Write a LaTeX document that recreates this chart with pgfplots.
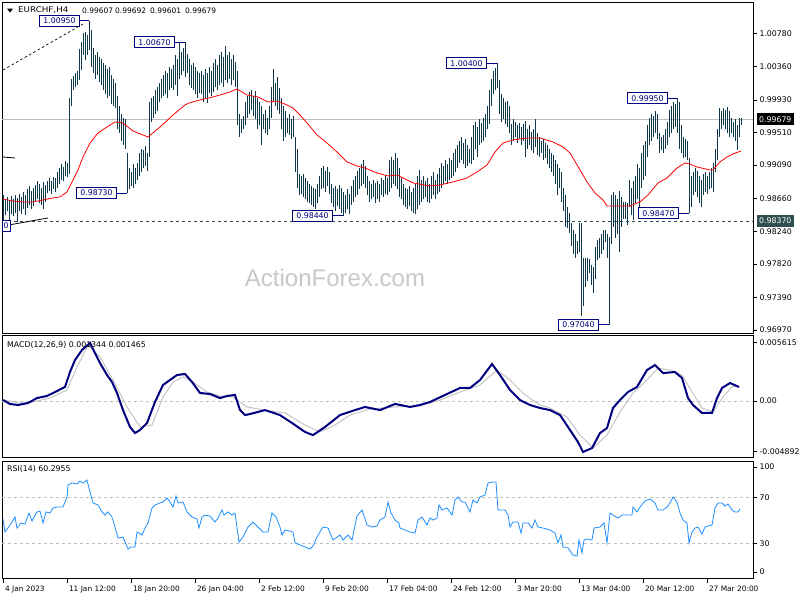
\documentclass[border=0pt]{standalone}
\usepackage{pgfplots}
\pgfplotsset{compat=1.18}
\usepackage{pgfplotstable}
\usepackage{fontspec}
\setmainfont{DejaVu Sans}
\newfontfamily\wmfont{Liberation Sans}

\definecolor{barc}{RGB}{16,56,76}
\definecolor{lblnavy}{RGB}{0,0,128}
\definecolor{slate}{RGB}{47,79,79}
\definecolor{sigc}{RGB}{192,192,192}
\definecolor{rsic}{RGB}{30,144,255}
\definecolor{wmc}{RGB}{200,200,200}
\definecolor{curc}{RGB}{190,190,190}

\newcommand\tfont{\fontsize{7.8}{9}\selectfont}
\newcommand\hfont{\fontsize{7.5}{9}\selectfont}
\newcommand\dfont{\fontsize{7.4}{9}\selectfont}

% H4 bars: index, high, low
\pgfplotstableread{
i hi lo
0 0.9871 0.9826
1 0.9866 0.9845
2 0.9868 0.9850
3 0.9864 0.9838
4 0.9869 0.9846
5 0.9866 0.9843
6 0.9870 0.9848
7 0.9867 0.9836
8 0.9872 0.9850
9 0.9868 0.9846
10 0.9874 0.9852
11 0.9870 0.9845
12 0.9878 0.9854
13 0.9882 0.9858
14 0.9876 0.9852
15 0.9880 0.9857
16 0.9884 0.9862
17 0.9888 0.9865
18 0.9885 0.9860
19 0.9880 0.9858
20 0.9887 0.9853
21 0.9883 0.9862
22 0.9889 0.9873
23 0.9892 0.9876
24 0.9888 0.9872
25 0.9894 0.9878
26 0.9892 0.9874
27 0.9900 0.9880
28 0.9905 0.9885
29 0.9910 0.9890
30 0.9907 0.9888
31 0.9914 0.9895
32 0.9912 0.9894
33 0.9995 0.9898
34 1.0020 0.9985
35 1.0024 1.0006
36 1.0027 1.0010
37 1.0030 1.0012
38 1.0059 1.0018
39 1.0067 1.0031
40 1.0079 1.0051
41 1.0080 1.0044
42 1.0077 1.0050
43 1.0095 1.0057
44 1.0083 1.0035
45 1.0060 1.0028
46 1.0050 1.0020
47 1.0055 1.0025
48 1.0048 1.0016
49 1.0045 1.0012
50 1.0040 1.0005
51 1.0038 1.0000
52 1.0032 0.9995
53 1.0035 0.9998
54 1.0025 0.9988
55 1.0020 0.9985
56 1.0015 0.9982
57 0.9998 0.9955
58 0.9985 0.9950
59 0.9975 0.9940
60 0.9970 0.9935
61 0.9968 0.9930
62 0.9925 0.9873
63 0.9905 0.9878
64 0.9900 0.9882
65 0.9910 0.9880
66 0.9905 0.9885
67 0.9912 0.9890
68 0.9925 0.9895
69 0.9930 0.9900
70 0.9928 0.9905
71 0.9933 0.9908
72 0.9925 0.9902
73 0.9990 0.9920
74 0.9995 0.9965
75 0.9998 0.9970
76 1.0005 0.9975
77 1.0010 0.9978
78 1.0015 0.9990
79 1.0020 0.9995
80 1.0025 0.9998
81 1.0030 1.0000
82 1.0028 0.9995
83 1.0035 1.0005
84 1.0032 1.0008
85 1.0038 1.0005
86 1.0050 1.0012
87 1.0045 0.9998
88 1.0066 1.0020
89 1.0055 1.0025
90 1.0060 1.0030
91 1.0067 1.0022
92 1.0052 1.0028
93 1.0045 1.0012
94 1.0038 1.0008
95 1.0040 1.0005
96 1.0035 1.0000
97 1.0030 0.9995
98 1.0028 1.0002
99 1.0030 1.0000
100 1.0025 0.9990
101 1.0032 0.9995
102 1.0028 0.9989
103 1.0035 1.0002
104 1.0030 0.9998
105 1.0040 1.0003
106 1.0045 1.0010
107 1.0038 1.0005
108 1.0050 1.0012
109 1.0055 1.0015
110 1.0048 1.0010
111 1.0062 1.0018
112 1.0050 1.0015
113 1.0055 1.0020
114 1.0045 1.0012
115 1.0050 1.0018
116 1.0042 1.0010
117 1.0030 0.9960
118 0.9975 0.9945
119 0.9968 0.9950
120 0.9972 0.9955
121 0.9990 0.9960
122 0.9998 0.9970
123 1.0003 0.9975
124 1.0005 0.9980
125 0.9998 0.9972
126 1.0004 0.9968
127 0.9995 0.9955
128 0.9990 0.9960
129 0.9985 0.9935
130 0.9975 0.9955
131 0.9980 0.9950
132 0.9970 0.9948
133 0.9985 0.9955
134 1.0010 0.9970
135 1.0033 0.9990
136 1.0015 0.9985
137 1.0022 0.9980
138 1.0008 0.9975
139 0.9995 0.9955
140 0.9985 0.9940
141 0.9978 0.9945
142 0.9970 0.9950
143 0.9975 0.9948
144 0.9968 0.9942
145 0.9972 0.9945
146 0.9945 0.9900
147 0.9930 0.9880
148 0.9898 0.9870
149 0.9895 0.9872
150 0.9898 0.9868
151 0.9892 0.9865
152 0.9888 0.9862
153 0.9885 0.9860
154 0.9882 0.9858
155 0.9880 0.9855
156 0.9878 0.9852
157 0.9885 0.9860
158 0.9895 0.9868
159 0.9905 0.9878
160 0.9908 0.9880
161 0.9902 0.9875
162 0.9906 0.9882
163 0.9900 0.9872
164 0.9885 0.9860
165 0.9880 0.9855
166 0.9882 0.9850
167 0.9878 0.9856
168 0.9884 0.9852
169 0.9880 0.9848
170 0.9875 0.9844
171 0.9870 0.9848
172 0.9878 0.9852
173 0.9872 0.9846
174 0.9882 0.9858
175 0.9890 0.9862
176 0.9895 0.9868
177 0.9902 0.9870
178 0.9905 0.9878
179 0.9910 0.9882
180 0.9915 0.9885
181 0.9908 0.9880
182 0.9895 0.9870
183 0.9888 0.9862
184 0.9885 0.9865
185 0.9890 0.9868
186 0.9886 0.9860
187 0.9888 0.9866
188 0.9885 0.9862
189 0.9892 0.9870
190 0.9890 0.9868
191 0.9895 0.9872
192 0.9892 0.9870
193 0.9915 0.9875
194 0.9920 0.9880
195 0.9915 0.9885
196 0.9925 0.9882
197 0.9918 0.9878
198 0.9905 0.9868
199 0.9892 0.9865
200 0.9885 0.9858
201 0.9880 0.9855
202 0.9878 0.9852
203 0.9882 0.9856
204 0.9875 0.9850
205 0.9880 0.9848
206 0.9885 0.9846
207 0.9895 0.9852
208 0.9903 0.9858
209 0.9890 0.9862
210 0.9895 0.9865
211 0.9888 0.9868
212 0.9892 0.9862
213 0.9885 0.9860
214 0.9895 0.9866
215 0.9900 0.9870
216 0.9890 0.9865
217 0.9898 0.9872
218 0.9905 0.9875
219 0.9912 0.9880
220 0.9908 0.9885
221 0.9915 0.9888
222 0.9910 0.9885
223 0.9918 0.9890
224 0.9915 0.9892
225 0.9925 0.9895
226 0.9930 0.9900
227 0.9935 0.9905
228 0.9940 0.9912
229 0.9945 0.9915
230 0.9938 0.9910
231 0.9942 0.9905
232 0.9935 0.9908
233 0.9930 0.9912
234 0.9945 0.9910
235 0.9960 0.9915
236 0.9965 0.9930
237 0.9958 0.9920
238 0.9968 0.9935
239 0.9963 0.9938
240 0.9970 0.9940
241 0.9975 0.9945
242 0.9985 0.9955
243 1.0005 0.9962
244 1.0020 0.9985
245 1.0030 1.0000
246 1.0034 1.0005
247 1.0040 1.0008
248 1.0018 0.9975
249 1.0000 0.9965
250 0.9995 0.9968
251 0.9990 0.9962
252 0.9992 0.9958
253 0.9985 0.9950
254 0.9962 0.9935
255 0.9968 0.9940
256 0.9965 0.9945
257 0.9960 0.9938
258 0.9963 0.9942
259 0.9958 0.9935
260 0.9962 0.9940
261 0.9966 0.9920
262 0.9955 0.9930
263 0.9960 0.9935
264 0.9952 0.9928
265 0.9955 0.9925
266 0.9968 0.9932
267 0.9950 0.9922
268 0.9945 0.9920
269 0.9940 0.9925
270 0.9942 0.9915
271 0.9938 0.9918
272 0.9935 0.9910
273 0.9930 0.9905
274 0.9925 0.9900
275 0.9922 0.9895
276 0.9915 0.9885
277 0.9910 0.9870
278 0.9905 0.9880
279 0.9900 0.9862
280 0.9880 0.9850
281 0.9870 0.9830
282 0.9855 0.9828
283 0.9848 0.9822
284 0.9835 0.9805
285 0.9825 0.9795
286 0.9820 0.9790
287 0.9812 0.9795
288 0.9835 0.9797
289 0.9835 0.9715
290 0.9790 0.9728
291 0.9790 0.9752
292 0.9790 0.9760
293 0.9788 0.9770
294 0.9780 0.9755
295 0.9778 0.9745
296 0.9804 0.9762
297 0.9813 0.9787
298 0.9815 0.9790
299 0.9820 0.9795
300 0.9825 0.9800
301 0.9825 0.9810
302 0.9820 0.9790
303 0.9816 0.9704
304 0.9870 0.9808
305 0.9875 0.9830
306 0.9870 0.9815
307 0.9865 0.9820
308 0.9876 0.9797
309 0.9868 0.9830
310 0.9862 0.9840
311 0.9862 0.9840
312 0.9860 0.9832
313 0.9890 0.9855
314 0.9880 0.9845
315 0.9888 0.9838
316 0.9895 0.9860
317 0.9910 0.9865
318 0.9905 0.9855
319 0.9925 0.9880
320 0.9935 0.9890
321 0.9940 0.9895
322 0.9960 0.9920
323 0.9970 0.9935
324 0.9975 0.9940
325 0.9972 0.9945
326 0.9978 0.9950
327 0.9975 0.9942
328 0.9950 0.9925
329 0.9945 0.9928
330 0.9948 0.9925
331 0.9955 0.9930
332 0.9965 0.9935
333 0.9980 0.9945
334 0.9985 0.9950
335 0.9990 0.9955
336 0.9988 0.9958
337 0.9995 0.9950
338 0.9990 0.9930
339 0.9960 0.9925
340 0.9945 0.9918
341 0.9942 0.9920
342 0.9940 0.9915
343 0.9918 0.9847
344 0.9895 0.9855
345 0.9900 0.9870
346 0.9905 0.9875
347 0.9902 0.9868
348 0.9895 0.9860
349 0.9890 0.9855
350 0.9898 0.9870
351 0.9900 0.9875
352 0.9895 0.9872
353 0.9900 0.9878
354 0.9905 0.9880
355 0.9912 0.9875
356 0.9930 0.9900
357 0.9955 0.9915
358 0.9983 0.9945
359 0.9978 0.9955
360 0.9982 0.9960
361 0.9980 0.9955
362 0.9984 0.9950
363 0.9978 0.9945
364 0.9970 0.9950
365 0.9965 0.9945
366 0.9968 0.9940
367 0.9960 0.9928
368 0.9970 0.9945
369 0.9969 0.9960
}\bars

% moving average (red)
\pgfplotstableread{
i p
0 0.98655
5 0.98629
10 0.98616
15 0.98616
20 0.98642
25 0.98668
28.5 0.98681
32 0.98745
34.5 0.98874
37.5 0.99028
40 0.99195
43.5 0.99375
47.5 0.99504
52 0.99581
56 0.99645
60 0.99632
65 0.99529
72.5 0.99452
78.5 0.99581
85 0.99735
91 0.99864
93 0.99889
98.5 0.99928
105 0.99967
108.5 0.99992
113.5 1.00031
117 1.00069
122 0.99992
127.5 0.99967
132.5 0.99902
137 0.99915
142 0.99864
145 0.99825
148.5 0.99735
152 0.99632
157 0.99478
162 0.99375
167 0.99259
172 0.99131
177 0.99079
181 0.99053
187 0.98989
192.5 0.98951
197 0.98964
205 0.98861
213.5 0.98822
218.5 0.98835
225 0.98874
232 0.98925
237 0.99002
242 0.99092
246 0.99259
250 0.99375
255 0.99414
262 0.99439
268.5 0.99439
275 0.99388
280 0.99324
283.5 0.99246
288.5 0.99028
292 0.98874
296 0.98732
300 0.98642
302 0.98565
313.5 0.98565
318.5 0.98616
322.5 0.98706
327.5 0.98861
332 0.98925
337 0.99053
341 0.99118
343.5 0.99105
347 0.99066
353.5 0.99028
355 0.99028
358.5 0.99131
362 0.99195
365 0.99234
369 0.99272
}\ma

\pgfplotstableread{
i v
0 0.00009
3.5 -0.00029
7.5 -0.00039
12.5 -0.00020
17 0.00028
22 0.00048
26 0.00086
31 0.00135
33.5 0.00279
36 0.00395
39.5 0.00491
43.5 0.00559
46 0.00462
48.5 0.00366
52 0.00250
54.5 0.00183
57 0.00077
60 -0.00088
63.5 -0.00251
66 -0.00309
68.5 -0.00280
72 -0.00213
76 -0.00010
80 0.00154
83.5 0.00202
87 0.00250
91 0.00260
94.5 0.00183
98.5 0.00077
103.5 0.00067
108.5 0.00028
112 0.00048
116 0.00058
118.5 -0.00088
121 -0.00136
123.5 -0.00126
131 -0.00088
138.5 -0.00136
146 -0.00232
151 -0.00299
155 -0.00329
161 -0.00251
168.5 -0.00136
176 -0.00088
181 -0.00058
188.5 -0.00088
196 -0.00029
203.5 -0.00058
208.5 -0.00039
213.5 -0.00010
221 0.00058
228.5 0.00125
233.5 0.00125
238.5 0.00202
244.5 0.00356
248.5 0.00250
253.5 0.00106
258.5 0.00009
263.5 -0.00039
268.5 -0.00068
273.5 -0.00088
278.5 -0.00136
283.5 -0.00280
287.5 -0.00396
290 -0.00492
294.5 -0.00454
298.5 -0.00309
302 -0.00261
305 -0.00068
308.5 0.00009
312.5 0.00086
317 0.00135
322 0.00298
326 0.00346
330 0.00269
336 0.00279
339.5 0.00221
342.5 0.00028
345 -0.00039
349.5 -0.00116
354.5 -0.00116
357 0.00028
359.5 0.00125
363.5 0.00173
368 0.00134
}\macd

\pgfplotstableread{
i v
0 0.00009
8.5 -0.00020
15 -0.00010
23.5 0.00028
32 0.00106
37 0.00327
42.5 0.00539
48.5 0.00424
55 0.00202
62 -0.00058
68.5 -0.00251
74.5 -0.00232
80 0.00038
85 0.00183
90 0.00231
95 0.00183
102 0.00086
108.5 0.00048
115 0.00038
122 -0.00058
131 -0.00088
141 -0.00116
151 -0.00232
158.5 -0.00299
166 -0.00232
173.5 -0.00136
183.5 -0.00078
196 -0.00058
208.5 -0.00048
218.5 0.00009
228.5 0.00086
238.5 0.00154
247 0.00298
253.5 0.00202
261 0.00058
268.5 -0.00039
273.5 -0.00068
282 -0.00155
288.5 -0.00329
295 -0.00454
302 -0.00329
308.5 -0.00107
315 0.00077
322 0.00202
327.5 0.00317
333.5 0.00298
339.5 0.00250
344.5 0.00086
349.5 -0.00068
355 -0.00107
360 0.00038
364.5 0.00135
368 0.00147
}\sig

\pgfplotstableread{
i v
0 51.3
1 39.9
2.5 43.4
4.5 48.7
6 53.1
7 43.4
9 47.8
11 46.9
13 56.6
14.5 49.6
17 57.5
18.5 58.3
20 47.8
21.5 57.5
23.5 56.6
25 61.0
27 61.8
30 61.8
32 70.6
32.5 81.1
34.5 82.9
37 82.0
38.5 84.6
40 82.9
42 85.5
43.5 75.0
45 65.4
47.5 63.6
49.5 57.5
51 54.8
52.5 57.5
54.5 53.1
56 44.3
57.5 34.6
60 35.5
62.5 25.0
64 26.8
66 26.8
67 39.9
69.5 37.3
71 43.4
72.5 47.8
74.5 61.0
76 63.6
78.5 65.4
80 66.2
82 69.7
83.5 66.2
85 61.8
86.5 71.5
87.5 65.4
90 66.2
92 57.5
94.5 53.1
97 51.3
98 43.4
99.5 53.1
101 54.8
103.5 53.9
106 48.7
107.5 52.2
109.5 59.2
110.5 54.8
112.5 57.5
114.5 54.8
116 56.6
118 31.1
120 35.5
122.5 44.3
125 48.7
127.5 44.3
130 39.9
132.5 39.9
134.5 56.6
136.5 53.1
138.5 44.3
139.5 37.3
141 41.7
143.5 40.8
145 39.9
146 30.3
148.5 28.5
151 26.8
153.5 25.0
155 27.6
157 35.5
160 44.3
162.5 43.4
165 32.9
168.5 37.3
170 32.9
172.5 37.3
174.5 32.9
177 53.9
179.5 59.2
182 46.1
184.5 44.3
187 45.2
188.5 50.4
191 53.1
192.5 66.2
194 56.6
196 50.4
198 47.8
198.5 43.4
201 41.7
203.5 39.9
206 39.0
207.5 50.4
209.5 53.1
212 46.1
213.5 52.2
215 50.4
217 52.2
218 63.6
219.5 59.2
222 61.0
224.5 54.8
226 68.0
227.5 70.6
229.5 66.2
231 66.2
233.5 57.5
235 68.0
237 65.4
238.5 70.6
241 72.4
242.5 82.9
245 83.8
246.5 83.8
247.5 59.2
251 59.2
252.5 54.8
253.5 44.3
255 48.7
257.5 48.7
259 39.0
260 47.8
262.5 47.8
264.5 43.4
266 50.4
267.5 44.3
270 43.4
273.5 41.7
276 39.0
277.5 30.3
279 37.3
280 26.8
282.5 25.9
285 19.7
287 18.9
288 32.9
289.5 21.5
290.5 32.9
292 33.8
294.5 32.9
295.5 43.4
298.5 44.3
300.5 47.8
302 30.3
303.5 56.6
305 54.8
307.5 52.2
309.5 54.8
312 54.8
314.5 54.8
315 61.8
317 57.5
318.5 61.8
321 67.1
323.5 68.9
326 65.4
327.5 59.2
330 59.2
332 61.8
333.5 65.4
335 70.6
337 66.2
338.5 56.6
340 50.4
342 47.8
343 30.3
344.5 39.9
346 43.4
347.5 44.3
349.5 38.2
351 44.3
352.5 45.2
354.5 46.1
356 61.0
357.5 65.4
359.5 65.4
361 62.7
362.5 64.5
364.5 59.2
366 57.5
367.5 57.5
368.5 60.3
}\rsi

\tikzset{
  lbl/.style={draw=lblnavy, fill=white, text=lblnavy, font=\tfont, line width=0.7pt,
    inner xsep=4pt, inner ysep=0pt, minimum height=11pt, anchor=east},
  lead/.style={lblnavy, line width=0.7pt},
}

\pgfplotsset{
  panel/.style={scale only axis, width=751pt, anchor=north west,
    xmin=-0.5, xmax=375, clip=false,
    axis line style={line width=0.8pt},
    every tick/.style={black, line width=0.6pt},
    tick align=outside, major tick length=4pt,
    ytick pos=right, scaled y ticks=false,
    yticklabel style={font=\tfont, anchor=west, xshift=-1pt},
  },
}

\begin{document}
\begin{tikzpicture}
\fill[white] (0,0) rectangle (800pt,-600pt);
\useasboundingbox (0,0) rectangle (800pt,-600pt);

% watermark
\node[text=wmc, font=\wmfont\fontsize{24}{26}\selectfont, anchor=base] at (335pt,-286pt) {ActionForex.com};

% ---- price panel
\begin{axis}[panel, at={(2pt,-2pt)}, height=331pt,
  ymin=0.96931, ymax=1.01188, xtick=\empty,
  ytick={1.0078,1.0036,0.9993,0.9951,0.9909,0.9866,0.9824,0.9782,0.9739,0.9697},
  yticklabels={1.00780,1.00360,0.99930,0.99510,0.99090,0.98660,0.98240,0.97820,0.97390,0.96970},
]
\addplot[curc, line width=0.8pt, forget plot] coordinates {(-0.5,0.99679) (375,0.99679)};
\addplot[slate, line width=0.8pt, dash pattern=on 3pt off 3pt, forget plot] coordinates {(-0.5,0.9837) (375,0.9837)};
\addplot[barc, only marks, mark=*, mark size=0pt, mark options={draw=none, fill=none},
  error bars/.cd, y dir=plus, y explicit, error mark=none,
  error bar style={line width=0.95pt, barc, solid}]
  table[x=i, y=lo, y error expr=\thisrow{hi}-\thisrow{lo}] {\bars};
\addplot[red, line width=0.8pt, mark=none] table[x=i, y=p] {\ma};

% high / low labels
\draw[lead] (axis cs:38.5,1.0095) -- (axis cs:43,1.0095);
\node[lbl] at (axis cs:38.5,1.0095) {1.00950};
\draw[lead] (axis cs:86,1.0067) -- (axis cs:91,1.0067);
\node[lbl] at (axis cs:86,1.0067) {1.00670};
\draw[lead] (axis cs:57,0.9873) -- (axis cs:62,0.9873);
\node[lbl] at (axis cs:57,0.9873) {0.98730};
\draw[lead] (axis cs:165,0.9844) -- (axis cs:170,0.9844);
\node[lbl] at (axis cs:165,0.9844) {0.98440};
\draw[lead] (axis cs:242,1.0040) -- (axis cs:247,1.0040);
\node[lbl] at (axis cs:242,1.0040) {1.00400};
\draw[lead] (axis cs:298,0.9704) -- (axis cs:303,0.9704);
\node[lbl] at (axis cs:298,0.9704) {0.97040};
\draw[lead] (axis cs:332.5,0.9995) -- (axis cs:337,0.9995);
\node[lbl] at (axis cs:332.5,0.9995) {0.99950};
\draw[lead] (axis cs:338,0.9847) -- (axis cs:343,0.9847);
\node[lbl] at (axis cs:338,0.9847) {0.98470};

\coordinate (cur) at (axis cs:375,0.99679);
\coordinate (sup) at (axis cs:375,0.9837);
\end{axis}

\node[fill=black, text=white, font=\tfont, anchor=west, inner xsep=2.5pt, inner ysep=0pt, minimum height=12pt] at ([xshift=3.5pt]cur) {0.99679};
\node[fill=slate, text=white, font=\tfont, anchor=west, inner xsep=2.5pt, inner ysep=0pt, minimum height=12pt] at ([xshift=3.5pt]sup) {0.98370};

% title
\fill (7pt,-8.5pt) -- (13pt,-8.5pt) -- (10pt,-12.5pt) -- cycle;
\node[font=\tfont, anchor=west, inner sep=0pt, xscale=1.12] at (18pt,-10.5pt) {EURCHF,H4};
\node[font=\hfont, anchor=west, inner sep=0pt] at (82pt,-10.5pt) {0.99607};
\node[font=\hfont, anchor=west, inner sep=0pt] at (115pt,-10.5pt) {0.99692};
\node[font=\hfont, anchor=west, inner sep=0pt] at (150pt,-10.5pt) {0.99601};
\node[font=\hfont, anchor=west, inner sep=0pt] at (185pt,-10.5pt) {0.99679};

% trend lines
\draw[black, line width=0.7pt, dash pattern=on 2.5pt off 2.5pt] (3pt,-70pt) -- (83pt,-24pt);
\draw[black, line width=0.8pt] (3pt,-157pt) -- (15pt,-158pt);
\draw[black, line width=0.8pt] (3pt,-226pt) -- (48pt,-218pt);
\draw[lblnavy, line width=0.7pt, fill=white] (2.5pt,-220pt) rectangle (10pt,-231pt);
\node[text=lblnavy, font=\tfont, inner sep=0pt] at (6pt,-225.5pt) {0};

% ---- MACD panel
\begin{axis}[panel, at={(2pt,-335pt)}, height=122.7pt,
  ymin=-0.00547, ymax=0.006357, xtick=\empty,
  ytick={0.005615,0,-0.004892},
  yticklabels={0.005615,0.00,-0.004892},
]
\addplot[sigc, line width=0.8pt, dash pattern=on 3pt off 3pt, forget plot] coordinates {(-0.5,0) (375,0)};
\addplot[sigc, line width=0.9pt, mark=none] table[x=i, y=v] {\sig};
\addplot[lblnavy, line width=2pt, mark=none] table[x=i, y=v] {\macd};
\end{axis}
\node[font=\tfont, anchor=west, inner sep=0pt] at (7pt,-345pt) {MACD(12,26,9) 0.001344 0.001465};

% ---- RSI panel
\begin{axis}[panel, at={(2pt,-461pt)}, height=117.5pt,
  ymin=-0.88, ymax=102.2,
  ytick={4.8,30,70,96.9}, yticklabels={0,30,70,100},
  xtick={0,32,64,96,128,160,192,224,256,288,320,352},
  xticklabels={4 Jan 2023,11 Jan 12:00,18 Jan 20:00,26 Jan 04:00,2 Feb 12:00,9 Feb 20:00,17 Feb 04:00,24 Feb 12:00,3 Mar 20:00,13 Mar 04:00,20 Mar 12:00,27 Mar 20:00},
  xtick pos=left,
  xticklabel style={font=\dfont, anchor=north west, xshift=-1.5pt},
]
\addplot[sigc, line width=0.8pt, dash pattern=on 3pt off 3pt, forget plot] coordinates {(-0.5,30) (375,30)};
\addplot[sigc, line width=0.8pt, dash pattern=on 3pt off 3pt, forget plot] coordinates {(-0.5,70) (375,70)};
\addplot[rsic, line width=0.8pt, mark=none] table[x=i, y=v] {\rsi};
\end{axis}
\node[font=\tfont, anchor=west, inner sep=0pt] at (7pt,-469pt) {RSI(14) 60.2955};

\end{tikzpicture}
\end{document}
